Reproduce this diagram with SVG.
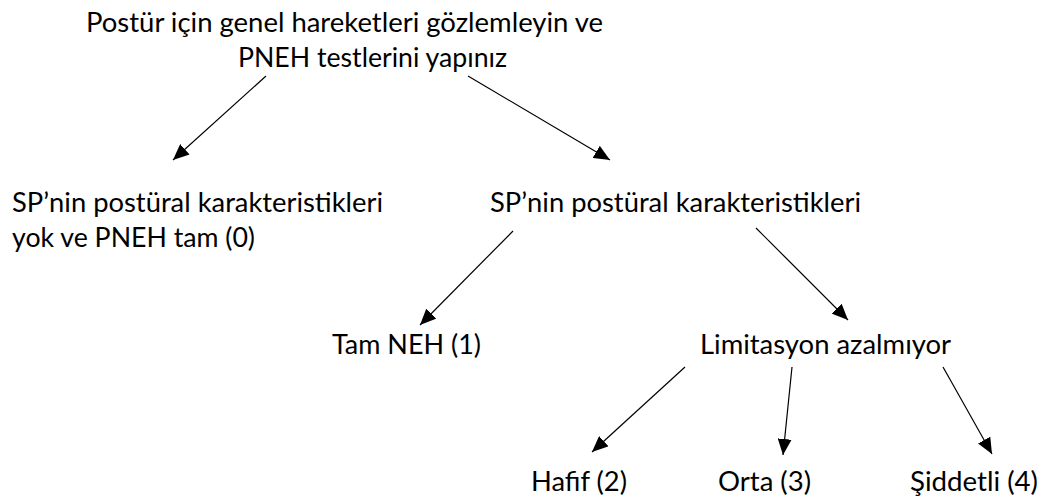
<svg xmlns="http://www.w3.org/2000/svg" width="1045" height="502" viewBox="0 0 1045 502">
  <style>
    text { font-family: Lato, "Open Sans", "Liberation Sans", sans-serif; font-size: 26.4px; fill: #000; }
    .conn { stroke: #000; stroke-width: 1.2; fill: none; marker-end: url(#arrow); }
  </style>
  <defs>
    <marker id="arrow" markerUnits="userSpaceOnUse" markerWidth="17" markerHeight="14" refX="16" refY="7" orient="auto">
      <path d="M0,0 L16,7 L0,14 Z" fill="#000"/>
    </marker>
  </defs>
  <rect width="1045" height="502" fill="#fff"/>

  <!-- decision tree nodes -->
  <g id="n-start">
    <text x="86" y="32" textLength="517" lengthAdjust="spacingAndGlyphs">Postür için genel hareketleri gözlemleyin ve</text>
    <text x="238" y="67" textLength="269" lengthAdjust="spacingAndGlyphs">PNEH testlerini yapınız</text>
  </g>
  <g id="n-none">
    <text x="12" y="212" textLength="371" lengthAdjust="spacingAndGlyphs">SP’nin postüral karakteristikleri</text>
    <text x="12" y="247" textLength="243" lengthAdjust="spacingAndGlyphs">yok ve PNEH tam (0)</text>
  </g>
  <g id="n-sp">
    <text x="490" y="212" textLength="371" lengthAdjust="spacingAndGlyphs">SP’nin postüral karakteristikleri</text>
  </g>
  <g id="n-full">
    <text x="332" y="354" textLength="149" lengthAdjust="spacingAndGlyphs">Tam NEH (1)</text>
  </g>
  <g id="n-limit">
    <text x="700" y="354" textLength="251" lengthAdjust="spacingAndGlyphs">Limitasyon azalmıyor</text>
  </g>
  <g id="n-mild">
    <text x="531" y="491" textLength="96" lengthAdjust="spacingAndGlyphs">Hafif (2)</text>
  </g>
  <g id="n-moderate">
    <text x="718" y="491" textLength="93" lengthAdjust="spacingAndGlyphs">Orta (3)</text>
  </g>
  <g id="n-severe">
    <text x="910" y="491" textLength="128" lengthAdjust="spacingAndGlyphs">Şiddetli (4)</text>
  </g>

  <!-- connectors -->
  <g id="connectors">
    <line class="conn" x1="266" y1="76" x2="173" y2="160"/>
    <line class="conn" x1="468" y1="76" x2="610" y2="160"/>
    <line class="conn" x1="513" y1="231" x2="420" y2="325"/>
    <line class="conn" x1="756" y1="228" x2="848" y2="320"/>
    <line class="conn" x1="685" y1="367" x2="592" y2="452"/>
    <line class="conn" x1="792" y1="367" x2="783" y2="455"/>
    <line class="conn" x1="943" y1="367" x2="992" y2="454"/>
  </g>
</svg>
